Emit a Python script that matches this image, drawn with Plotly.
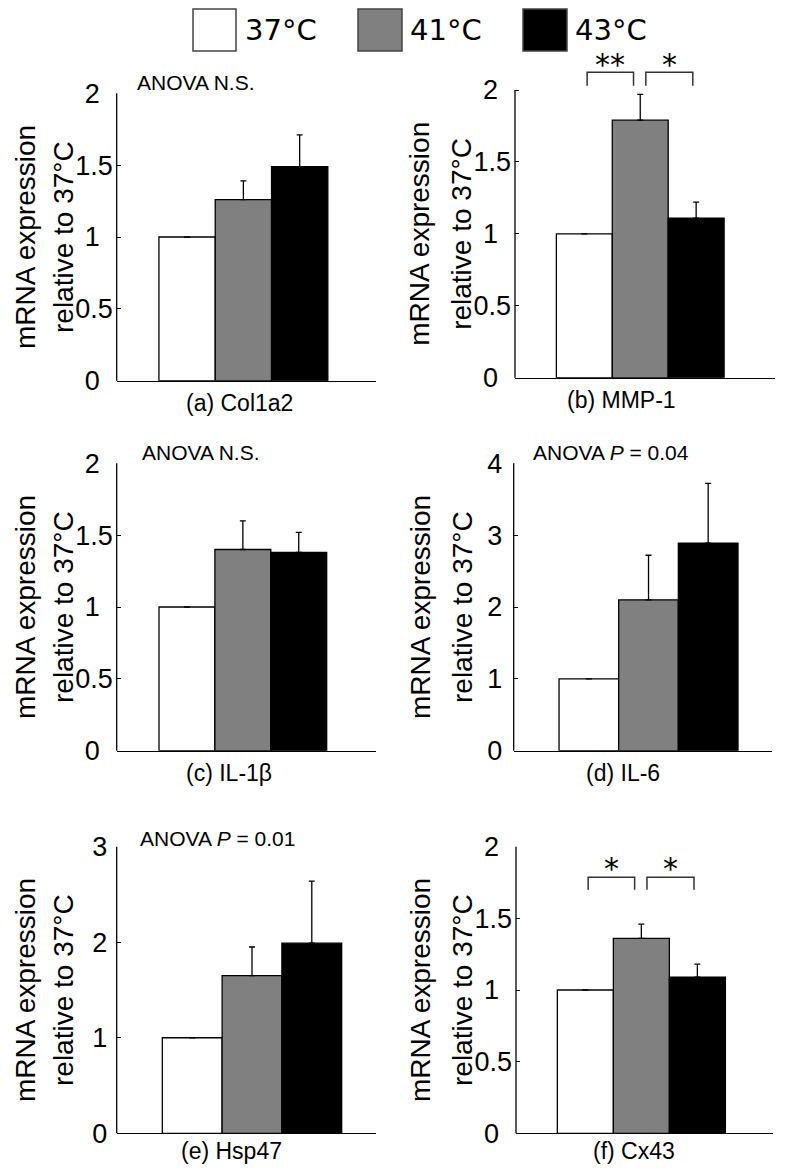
import plotly.graph_objects as go

# ---------------- data ----------------
conditions = ["37°C", "41°C", "43°C"]
bar_colors = ["#ffffff", "#808080", "#000000"]
positions = [0, 1, 2]

panel_labels = ["(a) Col1a2", "(b) MMP-1", "(c) IL-1β", "(d) IL-6", "(e) Hsp47", "(f) Cx43"]

col1a2_mean = [1.00, 1.26, 1.49]
col1a2_sem = [0.0, 0.13, 0.22]
mmp1_mean = [1.00, 1.79, 1.11]
mmp1_sem = [0.0, 0.18, 0.11]
il1b_mean = [1.00, 1.40, 1.38]
il1b_sem = [0.0, 0.20, 0.14]
il6_mean = [1.00, 2.10, 2.89]
il6_sem = [0.0, 0.62, 0.83]
hsp47_mean = [1.00, 1.65, 1.99]
hsp47_sem = [0.0, 0.30, 0.65]
cx43_mean = [1.00, 1.36, 1.09]
cx43_sem = [0.0, 0.10, 0.09]

means = [col1a2_mean, mmp1_mean, il1b_mean, il6_mean, hsp47_mean, cx43_mean]
sems = [col1a2_sem, mmp1_sem, il1b_sem, il6_sem, hsp47_sem, cx43_sem]

ticks_half = [0, 0.5, 1, 1.5, 2]
ticks_int4 = [0, 1, 2, 3, 4]
ticks_int3 = [0, 1, 2, 3]
y_ticks = [ticks_half, ticks_half, ticks_half, ticks_int4, ticks_int3, ticks_half]
y_top = [2, 2, 2, 4, 3, 2]
y_range_max = [2, 2.27, 2, 4, 3, 2]

anova_text = ["ANOVA N.S.", "", "ANOVA N.S.", "ANOVA <i>P</i> = 0.04", "ANOVA <i>P</i> = 0.01", ""]

# significance brackets
sig_panels = [1, 1, 5, 5]
sig_from = [0, 1, 0, 1]
sig_to = [1, 2, 1, 2]
sig_marks = ["**", "*", "*", "*"]
sig_low = [2.03, 2.03, 1.70, 1.70]
sig_high = [2.124, 2.124, 1.786, 1.786]
sig_star = [2.21, 2.21, 1.884, 1.884]

y_title_lines = ["mRNA expression", "relative to 37°C"]

# ---------------- layout geometry (reference pixels) ----------------
PAGE_W, PAGE_H = 786, 1172
BODY = 8                      # default page margin around the figure
W, H = PAGE_W - 2 * BODY, PAGE_H - 2 * BODY


def fx(px):
    return (px - BODY) / W


def fy(py):
    return 1 - (py - BODY) / H


x_dom_px = [(116.7, 375.7), (515, 774.7), (116.7, 375.7), (513.7, 772), (116.7, 375.7), (516, 773)]
y_zero_px = [380.7, 377.7, 750.7, 750.7, 1133.3, 1133.3]
y_toptick_px = [93.3, 90.0, 463.3, 463.3, 846.7, 846.7]
x_ranges = [(-1.25, 3.35), (-1.24, 3.405), (-1.257, 3.377), (-1.26, 3.07), (-1.263, 3.069), (-1.238, 3.35)]
title_line_px = [(25, 63), (420, 462), (25, 63), (420, 462), (25, 63), (420, 462)]
label_x_px = [239, 621, 229, 623, 231, 634]
label_shift = [-22, -22, -22, -22, -18, -18]
anova_x_px = [135, 0, 140, 531, 138, 0]
anova_shift = [11, 0, 11, 11, 8, 0]
int_pad = ["\u2008\u2009", "\u2008\u2009", "\u2008\u2009", "\u2008", "\u2009", "\u2008\u2009"]

FONT = "Liberation Sans, Arial, sans-serif"

fig = go.Figure()
layout = dict(
    width=W, height=H, margin=dict(l=0, r=0, t=0, b=0, pad=0, autoexpand=False),
    paper_bgcolor="white", plot_bgcolor="white", showlegend=False,
    font=dict(family=FONT, color="black"),
)
shapes = []
annotations = []

for i in range(6):
    n = "" if i == 0 else str(i + 1)
    xa, ya = "x" + n, "y" + n
    x0p, x1p = x_dom_px[i]
    zero, toptick = y_zero_px[i], y_toptick_px[i]
    px_per_unit = (zero - toptick) / y_top[i]
    top_px = zero - y_range_max[i] * px_per_unit
    ticktext = [(f"{v:g}" + int_pad[i]) if float(v).is_integer() else f"{v:g}" for v in y_ticks[i]]
    layout["xaxis" + n] = dict(
        domain=[fx(x0p), fx(x1p)], anchor=ya, range=list(x_ranges[i]),
        showline=True, linecolor="black", linewidth=1.3, showgrid=False,
        zeroline=False, showticklabels=False, ticks="", fixedrange=True,
    )
    layout["yaxis" + n] = dict(
        domain=[fy(zero), fy(top_px)], anchor=xa, range=[0, y_range_max[i]],
        showline=False, showgrid=False, zeroline=False,
        tickmode="array", tickvals=y_ticks[i], ticktext=ticktext,
        ticks="inside", ticklen=4, tickwidth=1.3, tickcolor="black",
        ticklabelstandoff=3,
        tickfont=dict(size=27, family=FONT, color="black"), fixedrange=True,
    )
    fig.add_trace(go.Bar(
        x=positions, y=means[i], width=1.0, xaxis=xa, yaxis=ya,
        marker=dict(color=bar_colors, line=dict(color="black", width=1.3)),
        error_y=dict(type="data", symmetric=False, array=sems[i], arrayminus=[0, 0, 0],
                     color="black", thickness=1.3, width=3),
        hoverinfo="skip",
    ))
    shapes.append(dict(type="line", xref=xa + " domain", yref=ya + " domain",
                       x0=0, x1=0, y0=0, y1=y_top[i] / y_range_max[i],
                       line=dict(color="black", width=1.3)))
    for line_text, lx in zip(y_title_lines, title_line_px[i]):
        annotations.append(dict(text=line_text, xref="paper", yref=ya, x=fx(lx),
                                y=y_top[i] / 2, xanchor="center", yanchor="middle",
                                textangle=-90, showarrow=False,
                                font=dict(size=28, family=FONT, color="black")))
    annotations.append(dict(text=panel_labels[i], xref="paper", yref=ya + " domain",
                            x=fx(label_x_px[i]), y=0, yshift=label_shift[i], xanchor="center",
                            yanchor="middle", showarrow=False,
                            font=dict(size=23, family=FONT, color="black")))
    if anova_text[i]:
        annotations.append(dict(text=anova_text[i], xref="paper", yref=ya,
                                x=fx(anova_x_px[i]), y=y_top[i], yshift=anova_shift[i],
                                xanchor="left", yanchor="middle", showarrow=False,
                                font=dict(size=21, family=FONT, color="black")))

for k in range(len(sig_marks)):
    i = sig_panels[k]
    n = "" if i == 0 else str(i + 1)
    xa, ya = "x" + n, "y" + n
    xl = positions[sig_from[k]] + (0.05 if sig_from[k] == 0 else 0.1)
    xr = positions[sig_to[k]] - (0.12 if sig_to[k] == 1 else 0.06)
    fig.add_trace(go.Scatter(
        x=[xl, xl, xr, xr], y=[sig_low[k], sig_high[k], sig_high[k], sig_low[k]],
        mode="lines", line=dict(color="#333333", width=1.5), xaxis=xa, yaxis=ya,
        hoverinfo="skip",
    ))
    annotations.append(dict(text=sig_marks[k], xref=xa, yref=ya, x=(xl + xr) / 2,
                            y=sig_star[k], yshift=-5, xanchor="center", yanchor="middle",
                            showarrow=False,
                            font=dict(size=30, family="DejaVu Sans", color="black")))

# legend drawn as boxes + labels
legend_box_px = [(193, 236), (358, 402), (523, 567)]
legend_text_px = [243, 408, 573]
legend_top, legend_bottom = 9, 51
for j, name in enumerate(conditions):
    bx0, bx1 = legend_box_px[j]
    shapes.append(dict(type="rect", xref="paper", yref="paper",
                       x0=fx(bx0), x1=fx(bx1), y0=fy(legend_bottom), y1=fy(legend_top),
                       fillcolor=bar_colors[j], line=dict(color="#444444", width=1.5)))
    annotations.append(dict(text=name, xref="paper", yref="paper",
                            x=fx(legend_text_px[j]), y=fy((legend_top + legend_bottom) / 2),
                            xanchor="left", yanchor="middle", showarrow=False,
                            font=dict(size=29, family="DejaVu Sans", color="black")))

layout["shapes"] = shapes
layout["annotations"] = annotations
fig.update_layout(**layout)
fig.write_html("out.html")
